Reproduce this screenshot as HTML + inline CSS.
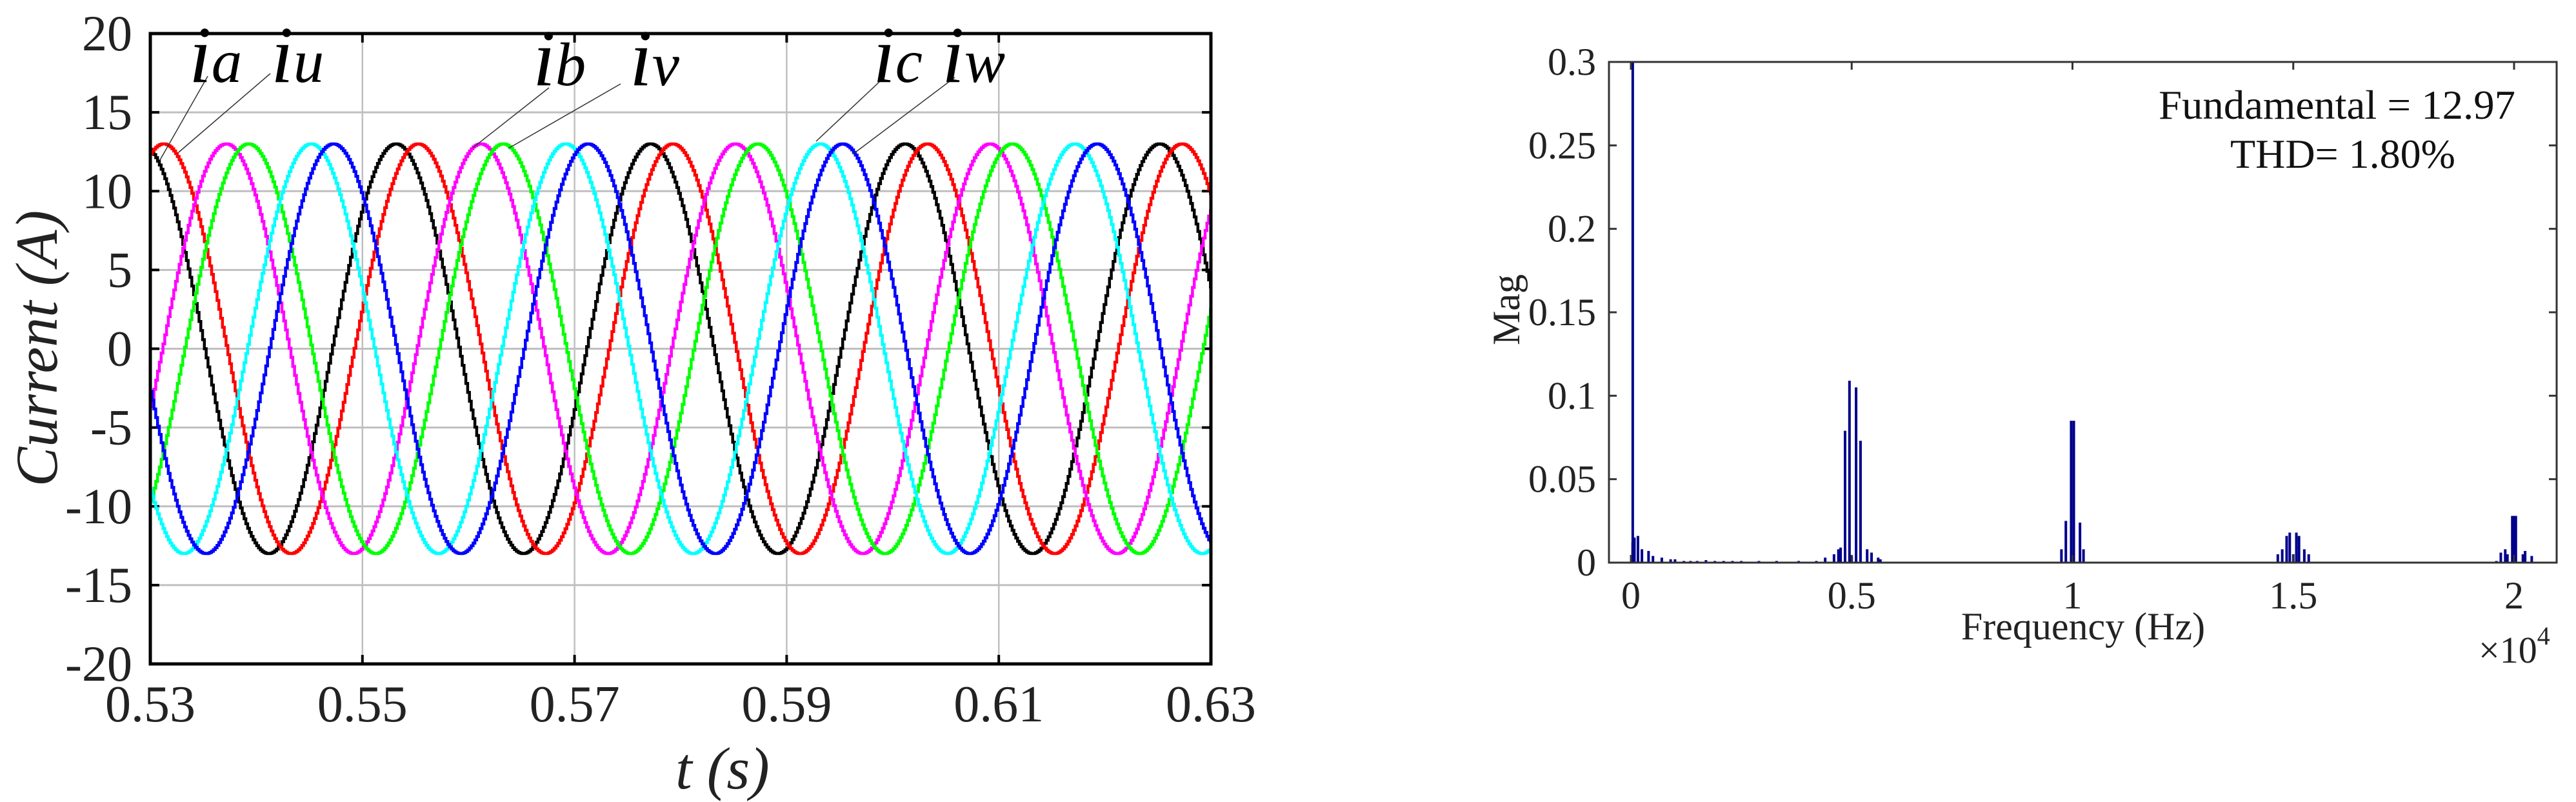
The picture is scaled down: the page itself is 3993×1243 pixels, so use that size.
<!DOCTYPE html>
<html><head><meta charset="utf-8"><style>
html,body{margin:0;padding:0;background:#fff;}
svg{display:block;}
svg text{font-family:"Liberation Serif","Times New Roman",Times,Tinos,"Nimbus Roman","DejaVu Serif","Noto Serif CJK SC",serif !important;}
</style></head><body>
<svg id="fig" width="3993" height="1243" viewBox="0 0 3993 1243" xmlns="http://www.w3.org/2000/svg">
<g id="left"></g>
<g id="right"></g>
</svg>
<script>
// ---- left chart data ----
const seriesNames = ['ia','iu','ib','iv','ic','iw'];
const seriesColors = ['#000000','#ff0000','#ff00ff','#00ff00','#00ffff','#0000ff'];
const seriesPeakTimes = [0.5291,0.5312,0.5371,0.5392,0.5451,0.5472];
const seriesAmplitudes = [13.0,13.0,13.0,13.0,13.0,13.0];
const periodSeconds = [0.024];
const yTicks = [20,15,10,5,0,-5,-10,-15,-20];
const xTicks = [0.53,0.55,0.57,0.59,0.61,0.63];
const xGrid = [0.55,0.57,0.59,0.61];
// ---- right chart data ----
const fftFreqs = [0.0042,0.004,0.008,0.016,0.025,0.04,0.05,0.07,0.09,0.1,0.12,0.135,0.15,0.17,0.19,0.21,0.23,0.25,0.29,0.33,0.38,0.42,0.44,0.46,0.47,0.475,0.485,0.495,0.5,0.51,0.52,0.535,0.545,0.56,0.565,0.975,0.985,0.997,1.0,1.003,1.017,1.025,1.465,1.475,1.485,1.492,1.5,1.507,1.513,1.525,1.535,1.96,1.97,1.98,1.985,1.996,2.0,2.004,2.02,2.025,2.04];
const fftMags = [12.97,0.012,0.015,0.016,0.008,0.007,0.004,0.003,0.002,0.002,0.001,0.001,0.001,0.0015,0.001,0.001,0.001,0.001,0.001,0.001,0.001,0.001,0.003,0.005,0.008,0.009,0.079,0.109,0.004,0.105,0.073,0.008,0.006,0.003,0.002,0.008,0.025,0.085,0.005,0.085,0.024,0.008,0.005,0.008,0.016,0.018,0.005,0.018,0.016,0.008,0.005,0.001,0.006,0.008,0.005,0.028,0.028,0.028,0.005,0.007,0.004];
const magTicks = ['0','0.05','0.1','0.15','0.2','0.25','0.3'];
const freqTicks = ['0','0.5','1','1.5','2'];

const NS='http://www.w3.org/2000/svg';
function mk(parent,tag,attrs,text){const e=document.createElementNS(NS,tag);for(const k in attrs)e.setAttribute(k,attrs[k]);if(text!==undefined)e.textContent=text;parent.appendChild(e);return e;}

// ---- left chart ----
const L=document.getElementById('left');
const lx0=233,lx1=1877,ly0=52,ly1=1029;
const X=t=>lx0+(t-0.53)/(0.10)*(lx1-lx0);
const Y=v=>ly0+(20-v)/40*(ly1-ly0);
yTicks.forEach(v=>{
  if(v!==20&&v!==-20){const g=mk(L,'line',{x1:lx0,x2:lx1,y1:Y(v),y2:Y(v),stroke:'#bfbfbf','stroke-width':3});
  
  }
  const tl=mk(L,'line',{x1:lx0,x2:lx0+14,y1:Y(v),y2:Y(v),stroke:'#000','stroke-width':4});
  
  
  mk(L,'line',{x1:lx1-14,x2:lx1,y1:Y(v),y2:Y(v),stroke:'#000','stroke-width':4});
  const t=mk(L,'text',{x:205,y:Y(v)+26,'font-size':78,'text-anchor':'end',fill:'#222'},String(v));
  
  
});
xGrid.forEach(v=>{
  const g=mk(L,'line',{x1:X(v),x2:X(v),y1:ly0,y2:ly1,stroke:'#bfbfbf','stroke-width':2.5});
  
  
  mk(L,'line',{x1:X(v),x2:X(v),y1:ly0,y2:ly0+14,stroke:'#000','stroke-width':4});
  mk(L,'line',{x1:X(v),x2:X(v),y1:ly1-14,y2:ly1,stroke:'#000','stroke-width':4});
});
xTicks.forEach(v=>{
  const t=mk(L,'text',{x:X(v),y:1118,'font-size':80,'text-anchor':'middle',fill:'#222'},v.toFixed(2));
  
  
});
seriesNames.forEach((n,i)=>{
  let d='';const step=0.00017;let prev=null;
  for(let t=0.53;t<=0.6301;t+=step){
    const v=seriesAmplitudes[i]*Math.cos(2*Math.PI*(t-seriesPeakTimes[i])/periodSeconds[0]);
    const px=X(Math.min(t,0.63)).toFixed(1),py=Y(v).toFixed(1);
    if(prev===null)d+='M'+px+' '+py;else d+=' H'+px+' V'+py;
    prev=py;
  }
  const p=mk(L,'path',{d:d,fill:'none',stroke:seriesColors[i],'stroke-width':4.5});
  
  
});
const box=mk(L,'rect',{x:lx0,y:ly0,width:lx1-lx0,height:ly1-ly0,fill:'none',stroke:'#000','stroke-width':5});


const ann=[['i','a',293,127,322,118,248,248],['i','u',420,127,419,114,277,236],['i','b',826,132,851,136,733,229],['i','v',976,132,962,130,788,230],['i','c',1353,127,1363,127,1265,219],['i','w',1460,127,1480,120,1322,239]];
ann.forEach(a=>{
  const ln=mk(L,'line',{x1:a[4],y1:a[5],x2:a[6],y2:a[7],stroke:'#333','stroke-width':1.5});
  
  
  const t=mk(L,'text',{x:a[2],y:a[3],'font-style':'italic',fill:'#000'});
  
  
  mk(t,'tspan',{'font-size':125},a[0]);
  mk(t,'tspan',{'font-size':95},a[1]);
});
const yl=mk(L,'text',{x:0,y:0,transform:'translate(88,540) rotate(-90)','font-size':92,'font-style':'italic','text-anchor':'middle',fill:'#222'},'Current (A)');


const xl=mk(L,'text',{x:1120,y:1222,'font-size':92,'font-style':'italic','text-anchor':'middle',fill:'#222'},'t (s)');



// ---- right chart ----
const R=document.getElementById('right');
const rx0=2494,rx1=3963,ry0=96,ry1=872;
const FX=f=>2528+f*684.5;
const MY=m=>ry1-Math.min(m,0.3)/0.3*(ry1-ry0);
fftFreqs.forEach((f,i)=>{
  const b=mk(R,'rect',{x:FX(f)-2,y:MY(fftMags[i]),width:4,height:ry1-MY(fftMags[i]),fill:'#00008b'});
  
  
});
magTicks.forEach(s=>{
  const v=parseFloat(s);
  mk(R,'line',{x1:rx0,x2:rx0+12,y1:MY(v),y2:MY(v),stroke:'#333','stroke-width':3});
  mk(R,'line',{x1:rx1-12,x2:rx1,y1:MY(v),y2:MY(v),stroke:'#333','stroke-width':3});
  const t=mk(R,'text',{x:2474,y:MY(v)+20,'font-size':60,'text-anchor':'end',fill:'#222'},s);
  
  
});
freqTicks.forEach(s=>{
  const v=parseFloat(s);
  mk(R,'line',{x1:FX(v),x2:FX(v),y1:ry0,y2:ry0+12,stroke:'#333','stroke-width':3});
  mk(R,'line',{x1:FX(v),x2:FX(v),y1:ry1-12,y2:ry1,stroke:'#333','stroke-width':3});
  const t=mk(R,'text',{x:FX(v),y:943,'font-size':60,'text-anchor':'middle',fill:'#222'},s);
  
  
});
const rb=mk(R,'rect',{x:rx0,y:ry0,width:rx1-rx0,height:ry1-ry0,fill:'none',stroke:'#333','stroke-width':3});


const f1=mk(R,'text',{x:3346,y:184,'font-size':64,textLength:553,lengthAdjust:'spacingAndGlyphs',fill:'#111'},'Fundamental = 12.97');


const f2=mk(R,'text',{x:3457,y:260,'font-size':64,textLength:349,lengthAdjust:'spacingAndGlyphs',fill:'#111'},'THD= 1.80%');


const ml=mk(R,'text',{x:0,y:0,transform:'translate(2355,480) rotate(-90)','font-size':60,'text-anchor':'middle',fill:'#222'},'Mag');


const fl=mk(R,'text',{x:3229,y:991,'font-size':60,'text-anchor':'middle',fill:'#222'},'Frequency (Hz)');


const ex=mk(R,'text',{x:3842,y:1027,'font-size':58,fill:'#222'});


mk(ex,'tspan',{},'×10');
mk(ex,'tspan',{'font-size':40,dy:-28},'4');
</script>
</body></html>
